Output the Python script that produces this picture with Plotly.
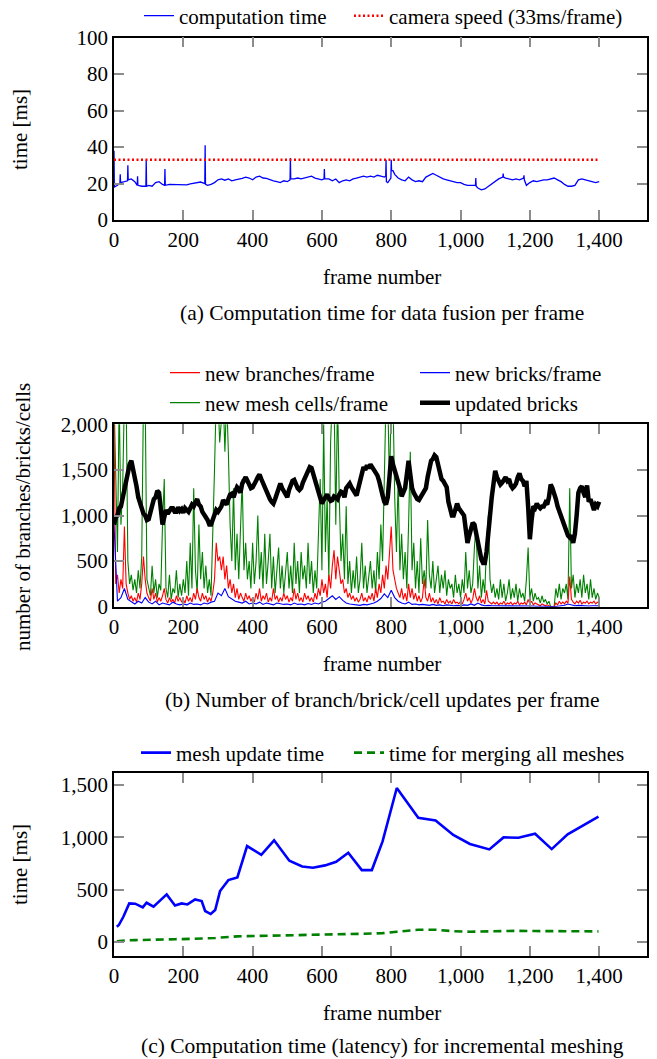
import plotly.graph_objects as go

FONT = "Liberation Serif, Times New Roman, DejaVu Serif, serif"
W, H = 657, 1059

# ---------------- (a) data fusion time ----------------
fusion_frames = [0, 1, 10, 17, 18, 19, 30, 39, 40, 41, 50, 60, 67, 68, 69, 80, 92, 93, 94, 100,
                 110, 120, 130, 140, 146, 147, 148, 160, 170, 180, 190, 200, 210, 220, 230, 240, 250, 262, 263, 264,
                 270, 280, 290, 300, 310, 320, 330, 340, 350, 360, 370, 380, 390, 400, 410, 420, 430, 440, 450, 460,
                 470, 480, 490, 500, 508, 509, 510, 520, 530, 540, 550, 560, 570, 580, 590, 600, 606, 607, 608, 620,
                 630, 640, 650, 660, 670, 680, 690, 700, 710, 720, 730, 740, 750, 760, 770, 780, 784, 785, 786, 790,
                 799, 800, 801, 805, 810, 820, 830, 840, 850, 860, 870, 880, 890, 900, 910, 920, 930, 940, 950, 960,
                 970, 980, 990, 1000, 1010, 1020, 1030, 1043, 1044, 1045, 1050, 1060, 1070, 1080, 1090, 1100, 1110, 1122, 1123, 1124,
                 1130, 1140, 1150, 1160, 1170, 1182, 1183, 1184, 1190, 1200, 1210, 1220, 1230, 1240, 1250, 1260, 1270, 1280, 1290, 1300,
                 1310, 1320, 1330, 1340, 1350, 1360, 1370, 1380, 1390, 1400]
fusion_ms = [38, 18, 19, 20, 25, 20.5, 21, 21.5, 30, 22, 22.5, 21, 19, 24, 19, 18.5, 18.5, 33, 18.5, 19,
             18.5, 20.5, 21, 19.5, 19, 28, 19, 19.5, 19.5, 19.2, 19.5, 19.5, 19.3, 19.8, 20, 20.3, 20.8, 20, 41, 19.5,
             19, 19.5, 20.5, 22, 22.5, 21.8, 22.5, 21.5, 22, 22.3, 22.8, 23.5, 23, 22, 23.5, 24, 23, 22.8, 22, 21.5,
             21, 20.5, 21.5, 21, 22, 34, 22.5, 22.5, 23, 22.5, 23, 23.5, 24, 23, 22.5, 22, 22.5, 28, 22.5, 22.5,
             21.5, 22.5, 20.5, 21.5, 22, 21.5, 22.5, 23, 23.5, 24, 23.5, 24, 23.5, 24.5, 24, 23.5, 24, 33, 21, 20.5,
             23, 33, 27, 27, 25, 23, 22, 21.5, 23.5, 22, 21, 21.5, 21, 23.5, 24.5, 25.5, 24.5, 23.5, 22.5, 22,
             21.5, 21, 20.5, 20.5, 19.5, 19, 19, 19, 23, 18.5, 17.5, 16.5, 17, 18.5, 20, 21.5, 22.5, 23.5, 25.5, 23.5,
             23, 22.5, 22, 22.5, 22, 23, 24.5, 22, 19, 20.5, 21.5, 21, 21.5, 22, 22, 22.5, 23, 22, 21, 19.5,
             18.5, 18.5, 19, 22, 22.5, 22, 21.5, 21, 20.5, 21]
camera_frames = [0, 1400]
camera_ms = [33, 33]

# ---------------- (b) updates per frame ----------------
frames_5 = list(range(0, 1401, 5))
frames_10 = list(range(0, 1401, 10))

new_mesh_cells = [
    2300, 1400, 600, 2300, 900, 1300, 2300, 2300, 500, 250, 350, 180, 300, 150, 400, 200, 550, 2300, 2300, 300,
    200, 120, 450, 150, 300, 100, 250, 180, 900, 1400, 200, 100, 350, 80, 200, 150, 400, 100, 250, 120,
    300, 150, 500, 120, 700, 200, 1300, 400, 150, 900, 300, 600, 200, 450, 150, 300, 120, 700, 1500, 2300,
    2300, 1800, 2300, 2300, 1700, 2300, 1700, 900, 500, 1300, 400, 800, 300, 1000, 1400, 400, 700, 300, 500, 200,
    700, 250, 500, 1000, 300, 600, 200, 800, 250, 500, 800, 200, 550, 150, 400, 650, 200, 450, 150, 350,
    600, 200, 450, 150, 700, 250, 500, 150, 600, 300, 450, 200, 700, 250, 500, 150, 400, 200, 800, 1400,
    400, 2000, 600, 1200, 300, 1800, 2300, 2300, 900, 2300, 1200, 500, 800, 300, 1100, 250, 500, 150, 400, 200,
    550, 150, 300, 700, 200, 450, 150, 350, 500, 200, 400, 150, 600, 300, 900, 500, 1500, 2300, 2300, 1300,
    2300, 2300, 1200, 600, 1400, 400, 800, 300, 600, 200, 900, 1700, 400, 700, 200, 500, 150, 750, 250, 400,
    200, 950, 350, 200, 500, 150, 300, 450, 150, 350, 200, 400, 120, 300, 200, 250, 100, 350, 150, 250,
    100, 300, 150, 600, 200, 400, 150, 250, 650, 900, 200, 450, 100, 300, 150, 700, 1000, 300, 150, 250,
    100, 200, 80, 300, 100, 250, 60, 150, 300, 80, 200, 100, 250, 60, 200, 100, 150, 60, 300, 650,
    100, 200, 60, 150, 80, 100, 40, 120, 50, 80, 30, 60, 0, 0, 0, 200, 100, 250, 80, 200,
    150, 250, 80, 1300, 200, 350, 100, 250, 150, 300, 100, 350, 150, 250, 80, 300, 100, 200, 80, 150, 100]

new_branches = [
    2000, 250, 350, 150, 300, 200, 880, 250, 150, 80, 120, 60, 100, 50, 150, 80, 250, 550, 300, 150,
    100, 60, 200, 80, 150, 50, 100, 60, 120, 200, 80, 40, 100, 50, 80, 40, 120, 60, 100, 50,
    80, 40, 120, 60, 100, 50, 150, 80, 200, 100, 60, 150, 80, 120, 50, 100, 60, 150, 300, 700,
    500, 550, 400, 550, 300, 450, 200, 300, 150, 250, 100, 200, 80, 150, 100, 60, 150, 80, 120, 60,
    100, 50, 150, 80, 200, 60, 120, 80, 150, 50, 100, 60, 200, 80, 120, 50, 100, 60, 150, 80,
    120, 50, 100, 60, 200, 80, 150, 60, 100, 50, 150, 80, 120, 60, 100, 50, 150, 80, 200, 120,
    300, 150, 250, 100, 350, 200, 450, 620, 300, 550, 400, 250, 300, 150, 200, 100, 150, 80, 120, 60,
    100, 50, 80, 150, 60, 100, 50, 120, 80, 150, 60, 200, 100, 250, 150, 350, 200, 450, 300, 600,
    880, 400, 300, 200, 150, 100, 200, 80, 150, 60, 250, 100, 200, 80, 150, 60, 120, 50, 100, 300,
    100, 60, 150, 50, 100, 40, 80, 30, 100, 50, 60, 30, 80, 40, 60, 30, 80, 40, 50, 30,
    60, 30, 80, 150, 60, 100, 40, 80, 200, 100, 60, 120, 40, 80, 30, 180, 60, 40, 30, 50,
    30, 50, 20, 40, 30, 60, 20, 40, 30, 50, 20, 40, 30, 60, 20, 40, 30, 50, 20, 80,
    30, 60, 20, 40, 30, 20, 10, 30, 20, 10, 20, 10, 0, 0, 0, 40, 20, 60, 30, 50,
    30, 60, 40, 330, 80, 50, 30, 60, 40, 70, 30, 50, 40, 60, 30, 50, 40, 60, 30, 50, 40]

new_bricks = [
    900, 60, 100, 200, 80, 50, 30, 60, 40, 100,
    50, 30, 60, 20, 40, 30, 20, 50, 30, 20,
    30, 20, 40, 25, 30, 20, 40, 30, 50, 60,
    150, 120, 200, 110, 80, 60, 50, 40, 60, 30,
    40, 30, 50, 25, 40, 30, 20, 40, 30, 25,
    30, 20, 40, 25, 30, 20, 35, 25, 40, 30,
    50, 60, 90, 120, 80, 110, 70, 40, 30, 25,
    20, 15, 25, 20, 30, 40, 60, 90, 140, 100,
    180, 100, 60, 40, 30, 50, 25, 30, 20, 25,
    20, 15, 25, 15, 20, 10, 20, 15, 10, 15,
    10, 20, 15, 30, 15, 40, 20, 10, 15, 10,
    10, 15, 8, 12, 10, 8, 12, 8, 10, 15,
    10, 8, 5, 8, 5, 3, 0, 0, 5, 10,
    15, 30, 20, 10, 15, 10, 12, 8, 10, 12, 10]

updated_bricks = [
    900, 980, 1000, 1080, 1100, 1200, 1300, 1380, 1500, 1560, 1600, 1520, 1400, 1320, 1200, 1130, 1060, 1020, 1000, 950,
    960, 1050, 1100, 1180, 1200, 1270, 1250, 1100, 900, 980, 1060, 1020, 1050, 1080, 1080, 1040, 1040, 1090, 1050, 1070,
    1030, 1080, 1060, 1040, 1080, 1120, 1100, 1150, 1180, 1120, 1100, 1040, 1000, 980, 950, 900, 900, 960, 1000, 1060,
    1040, 1080, 1100, 1170, 1150, 1120, 1180, 1230, 1240, 1200, 1260, 1310, 1290, 1250, 1350, 1400, 1420, 1380, 1350, 1300,
    1310, 1360, 1380, 1420, 1450, 1400, 1350, 1300, 1250, 1200, 1180, 1150, 1130, 1180, 1250, 1320, 1350, 1300, 1260, 1220,
    1200, 1280, 1330, 1380, 1390, 1340, 1300, 1280, 1300, 1360, 1400, 1450, 1480, 1530, 1520, 1460, 1380, 1300, 1250, 1180,
    1130, 1170, 1200, 1230, 1190, 1160, 1170, 1210, 1200, 1180, 1230, 1260, 1250, 1200, 1300, 1330, 1350, 1310, 1280, 1240,
    1220, 1300, 1380, 1470, 1530, 1500, 1550, 1520, 1560, 1530, 1500, 1470, 1440, 1380, 1280, 1220, 1150, 1120, 1200, 1400,
    1650, 1560, 1500, 1430, 1380, 1300, 1210, 1250, 1300, 1450, 1600, 1450, 1300, 1250, 1200, 1180, 1170, 1200, 1240, 1270,
    1300, 1420, 1530, 1600, 1620, 1660, 1640, 1550, 1450, 1400, 1380, 1350, 1310, 1150, 1050, 1000, 1000, 1080, 1130, 1080,
    1050, 1020, 1000, 850, 700, 780, 850, 920, 900, 800, 700, 600, 520, 480, 480, 600, 760, 1000, 1200, 1400,
    1490, 1420, 1380, 1340, 1360, 1400, 1420, 1380, 1400, 1330, 1300, 1320, 1350, 1420, 1460, 1400, 1380, 1320, 1380, 1100,
    740, 950, 1100, 1080, 1130, 1100, 1080, 1100, 1100, 1140, 1120, 1200, 1340, 1300, 1250, 1180, 1100, 1050, 1000, 940,
    880, 820, 780, 760, 780, 700, 800, 1000, 1250, 1300, 1320, 1250, 1200, 1330, 1150, 1180, 1100, 1060, 1120, 1100, 1150]

# ---------------- (c) meshing latency ----------------
mesh_frames = [8, 14, 27, 44, 61, 83, 94, 114, 152, 176, 195, 212, 234, 253, 263, 279, 292, 306, 330, 356,
               384, 425, 462, 506, 543, 574, 609, 641, 676, 715, 744, 775, 816, 878, 928, 979, 1027, 1083, 1124, 1167,
               1215, 1263, 1309, 1398]
mesh_update_ms = [144, 160, 239, 367, 364, 329, 373, 335, 453, 347, 367, 357, 405, 389, 294, 265, 303, 485, 590, 616,
                  916, 833, 971, 776, 721, 709, 731, 766, 852, 686, 686, 961, 1472, 1187, 1162, 1022, 936, 884, 999, 996,
                  1034, 887, 1028, 1197]
merge_ms = [5, 7, 10, 13, 15, 18, 19, 20, 22, 24, 25, 26, 27, 29, 30, 32, 35, 40, 47, 51,
            53, 55, 57, 59, 61, 62, 64, 68, 72, 76, 78, 82, 96, 114, 115, 100, 96, 100, 105, 104,
            102, 101, 100, 99]

x_ticks = [0, 200, 400, 600, 800, 1000, 1200, 1400]
y_ticks_a = [0, 20, 40, 60, 80, 100]
y_ticks_b = [0, 500, 1000, 1500, 2000]
y_ticks_c = [0, 500, 1000, 1500]


def px(x):
    return x / W


def py(y):
    return 1 - y / H


fig = go.Figure()

# (a)
fig.add_trace(go.Scatter(x=fusion_frames, y=fusion_ms, mode="lines", name="computation time",
                         line=dict(color="#0000ff", width=1.3), xaxis="x", yaxis="y", legend="legend"))
fig.add_trace(go.Scatter(x=camera_frames, y=camera_ms, mode="lines", name="camera speed (33ms/frame)",
                         line=dict(color="#ff0000", width=2.5, dash="2px,2.5px"), xaxis="x", yaxis="y",
                         legend="legend", legendwidth=240))

# (b)
fig.add_trace(go.Scatter(x=frames_5, y=new_mesh_cells, mode="lines", name="new mesh cells/frame",
                         line=dict(color="#008000", width=1.1), xaxis="x2", yaxis="y2", legend="legend3"))
fig.add_trace(go.Scatter(x=frames_5, y=new_branches, mode="lines", name="new branches/frame",
                         line=dict(color="#ff0000", width=1.1), xaxis="x2", yaxis="y2", legend="legend2"))
fig.add_trace(go.Scatter(x=frames_10, y=new_bricks, mode="lines", name="new bricks/frame",
                         line=dict(color="#0000ff", width=1.1), xaxis="x2", yaxis="y2", legend="legend2",
                         legendwidth=150))
fig.add_trace(go.Scatter(x=frames_5, y=updated_bricks, mode="lines", name="updated bricks",
                         line=dict(color="#000000", width=4.5), xaxis="x2", yaxis="y2", legend="legend3",
                         legendwidth=150))

# (c)
fig.add_trace(go.Scatter(x=mesh_frames, y=mesh_update_ms, mode="lines", name="mesh update time",
                         line=dict(color="#0000ff", width=2.6), xaxis="x3", yaxis="y3", legend="legend4"))
fig.add_trace(go.Scatter(x=mesh_frames, y=merge_ms, mode="lines", name="time for merging all meshes",
                         line=dict(color="#008000", width=2.6, dash="8px,5px"), xaxis="x3", yaxis="y3",
                         legend="legend4", legendwidth=240))

x_dom = [px(114), px(647)]
axis_common = dict(ticks="inside", ticklen=10, tickwidth=1.5, tickcolor="#8c8c8c",
                   showline=True, linecolor="black", linewidth=1.5, mirror="ticks",
                   showgrid=False, zeroline=False,
                   tickfont=dict(family=FONT, size=21, color="black"))

fig.update_layout(
    width=W, height=H,
    margin=dict(l=0, r=0, t=0, b=0, pad=0, autoexpand=False),
    paper_bgcolor="white", plot_bgcolor="white",
    font=dict(family=FONT, size=21, color="black"),
    xaxis=dict(domain=x_dom, anchor="y", range=[0, 1538], tickvals=x_ticks, tickformat=",d", **axis_common),
    yaxis=dict(domain=[py(220), py(37.5)], anchor="x", range=[0, 100], tickvals=y_ticks_a, **axis_common),
    xaxis2=dict(domain=x_dom, anchor="y2", range=[0, 1538], tickvals=x_ticks, tickformat=",d", **axis_common),
    yaxis2=dict(domain=[py(606.7), py(424.3)], anchor="x2", range=[0, 2000], tickvals=y_ticks_b,
                tickformat=",d", **axis_common),
    xaxis3=dict(domain=x_dom, anchor="y3", range=[0, 1538], tickvals=x_ticks, tickformat=",d", **axis_common),
    yaxis3=dict(domain=[py(956), py(773)], anchor="x3", range=[-137, 1616], tickvals=y_ticks_c,
                tickformat=",d", **axis_common),
    showlegend=True,
)

leg_common = dict(orientation="h", xanchor="left", yanchor="middle", bgcolor="rgba(0,0,0,0)",
                  borderwidth=0, entrywidthmode="pixels", font=dict(family=FONT, size=21, color="black"))
fig.update_layout(
    legend=dict(x=px(139), y=py(16), entrywidth=165, **leg_common),
    legend2=dict(x=px(165), y=py(373), entrywidth=205, **leg_common),
    legend3=dict(x=px(165), y=py(403), entrywidth=205, **leg_common),
    legend4=dict(x=px(136), y=py(753), entrywidth=168, **leg_common),
)

annots = [
    # axis titles
    dict(text="time [ms]", x=px(20), y=py(130), textangle=-90, size=21),
    dict(text="frame number", x=px(382), y=py(277), textangle=0, size=21),
    dict(text="number of branches/bricks/cells", x=px(23), y=py(517), textangle=-90, size=21),
    dict(text="frame number", x=px(382), y=py(664), textangle=0, size=21),
    dict(text="time [ms]", x=px(20), y=py(865), textangle=-90, size=21),
    dict(text="frame number", x=px(382), y=py(1013), textangle=0, size=21),
    # captions
    dict(text="(a) Computation time for data fusion per frame", x=px(382), y=py(313), textangle=0, size=21.5),
    dict(text="(b) Number of branch/brick/cell updates per frame", x=px(382), y=py(700), textangle=0, size=21.5),
    dict(text="(c) Computation time (latency) for incremental meshing", x=px(382), y=py(1046), textangle=0,
         size=21.5),
]
for a in annots:
    fig.add_annotation(text=a["text"], x=a["x"], y=a["y"], xref="paper", yref="paper",
                       xanchor="center", yanchor="middle", showarrow=False, textangle=a["textangle"],
                       font=dict(family=FONT, size=a["size"], color="black"))

fig.write_html("out.html", config={"displayModeBar": False},
               post_script="document.body.style.margin='0px';")
